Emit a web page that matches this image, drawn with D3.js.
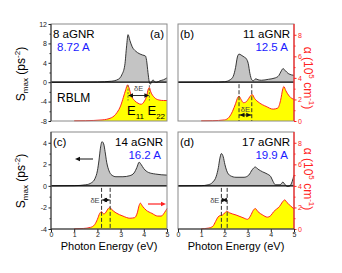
<!DOCTYPE html>
<html lang="en">
<head>
<meta charset="UTF-8">
<title>aGNR spectra</title>
<script src="https://d3js.org/d3.v7.min.js"></script>
<style>
  body { margin: 0; background: #fff; }
  svg { display: block; font-family: "Liberation Sans", Arial, sans-serif; }
</style>
</head>
<body>
<svg id="canvas" width="342" height="273"></svg>
<script>
// photon energy in eV, S_max in ps^-2, alpha in 10^5 cm^-1
let energyTicks = [0, 1, 2, 3, 4, 5]
let sTicksTop = [-8, -4, 0, 4, 8, 12]
let sTicksBottom = [-4, -2, 0, 2, 4]
let alphaTicks = [0, 2, 4, 6, 8]

// 8 aGNR
let sA = [[0,0],[1,0],[2,0.05],[2.6,0.2],[2.9,0.6],[3.05,1.5],[3.18,3.5],[3.26,7.5],[3.32,9.8],[3.4,8.6],[3.5,7.3],[3.65,6.4],[3.8,5.9],[3.95,5.6],[4.07,5.4],[4.12,4.5],[4.18,2.0],[4.23,0.2],[4.28,-0.4],[4.34,0.1],[4.4,0.5],[4.46,0.1],[4.55,0.0],[4.7,0.3],[4.85,0.5],[5,0.9]]
let alphaA = [[1,0.02],[1.5,0.03],[2.2,0.1],[2.6,0.3],[2.85,0.8],[3.0,1.4],[3.12,2.2],[3.22,2.9],[3.3,3.35],[3.36,3.1],[3.45,2.4],[3.6,1.9],[3.75,1.65],[3.88,1.55],[4.0,1.75],[4.12,2.3],[4.2,3.0],[4.24,3.1],[4.3,2.7],[4.45,2.2],[4.65,1.95],[4.85,1.9],[5,1.9]]
let peaksA = [3.32, 4.24]

// 11 aGNR
let sB = [[0,0],[1.5,0.02],[2.0,0.1],[2.25,0.5],[2.38,1.2],[2.48,3.0],[2.56,5.2],[2.63,5.8],[2.72,5.6],[2.85,5.2],[2.95,4.8],[3.03,3.8],[3.1,1.8],[3.18,0.5],[3.25,0.3],[3.35,0.7],[3.45,0.5],[3.6,0.4],[3.9,0.6],[4.2,0.9],[4.35,1.4],[4.45,2.3],[4.53,2.8],[4.62,2.4],[4.75,1.8],[4.9,1.5],[5,1.4]]
let alphaB = [[1,0.02],[1.5,0.03],[2.0,0.1],[2.2,0.35],[2.35,0.9],[2.48,1.6],[2.58,2.2],[2.63,2.3],[2.72,2.0],[2.82,1.7],[2.92,1.75],[3.05,2.1],[3.15,2.4],[3.2,2.45],[3.3,2.1],[3.5,1.7],[3.8,1.35],[4.1,1.1],[4.3,1.2],[4.42,1.9],[4.52,3.0],[4.56,3.2],[4.65,2.8],[4.8,2.3],[5,2.0]]
let peaksB = [2.63, 3.18]

// 14 aGNR
let sC = [[0,0],[1.0,0.02],[1.5,0.1],[1.75,0.3],[1.9,0.7],[2.0,1.4],[2.07,2.4],[2.13,3.5],[2.2,4.1],[2.27,3.9],[2.33,3.2],[2.4,2.2],[2.5,1.4],[2.62,1.0],[2.8,0.85],[3.1,0.85],[3.4,0.95],[3.58,1.2],[3.7,1.7],[3.8,2.2],[3.88,2.0],[4.0,1.6],[4.2,1.25],[4.5,1.1],[5,1.0]]
let alphaC = [[1.0,0.02],[1.4,0.05],[1.7,0.15],[1.88,0.4],[2.0,0.9],[2.1,1.45],[2.18,1.6],[2.27,1.4],[2.35,1.5],[2.45,1.85],[2.53,2.0],[2.62,1.8],[2.8,1.5],[3.1,1.2],[3.4,1.0],[3.6,1.05],[3.72,1.5],[3.8,2.2],[3.85,2.4],[3.95,2.1],[4.1,1.75],[4.35,1.45],[4.6,1.2],[4.75,1.2],[4.9,1.55],[5,1.9]]
let peaksC = [2.18, 2.55]

// 17 aGNR
let sD = [[0,0],[1.0,0.02],[1.3,0.1],[1.5,0.35],[1.65,0.9],[1.74,1.7],[1.8,2.5],[1.87,3.0],[1.95,2.7],[2.02,2.0],[2.1,1.4],[2.25,0.95],[2.5,0.8],[2.85,0.8],[3.05,1.0],[3.2,1.5],[3.33,1.75],[3.45,1.55],[3.65,1.3],[3.85,1.1],[4.0,0.85],[4.1,0.4],[4.2,0.1],[4.4,0.1],[4.52,0.35],[4.62,0.1],[4.72,-0.05],[4.82,0.0],[4.92,0.4],[5,1.0]]
let alphaD = [[1.0,0.02],[1.3,0.08],[1.5,0.25],[1.62,0.7],[1.72,1.1],[1.82,1.25],[1.92,1.3],[2.02,1.5],[2.1,1.65],[2.22,1.5],[2.5,1.3],[2.8,1.05],[3.0,0.9],[3.12,1.2],[3.25,1.75],[3.33,1.9],[3.45,1.6],[3.65,1.3],[3.85,1.1],[4.0,1.25],[4.12,1.6],[4.25,1.85],[4.38,2.1],[4.5,2.5],[4.6,2.7],[4.7,2.45],[4.85,2.15],[5,1.85]]
let peaksD = [1.87, 2.12]

let panels = [
  { tag: '(a)', name: '8 aGNR', wid: '8.72 A', s: sA, alpha: alphaA, peaks: peaksA, col: 0, row: 0 },
  { tag: '(b)', name: '11 aGNR', wid: '12.5 A', s: sB, alpha: alphaB, peaks: peaksB, col: 1, row: 0 },
  { tag: '(c)', name: '14 aGNR', wid: '16.2 A', s: sC, alpha: alphaC, peaks: peaksC, col: 0, row: 1 },
  { tag: '(d)', name: '17 aGNR', wid: '19.9 A', s: sD, alpha: alphaD, peaks: peaksD, col: 1, row: 1 }
]

let colX = [51, 178]
let rowY = [24, 132]
let pw = 116
let ph = 97
let red = '#ff2222'
let blue = '#1a1aff'

let svg = d3.select('#canvas')

let arrowHead = (g, x, y, dir, color) => {
  // small filled triangle pointing left (dir=-1) or right (dir=1)
  g.append('path')
    .attr('d', `M${x},${y} L${x - dir * 5},${y - 2.2} L${x - dir * 5},${y + 2.2} Z`)
    .attr('fill', color)
}

let styleAxis = (sel, color) => {
  sel.select('.domain').remove()
  sel.selectAll('line').attr('stroke', color)
  sel.selectAll('text').attr('fill', color).attr('font-size', 7)
    .attr('font-family', '"Liberation Sans", Arial, sans-serif')
  sel.attr('font-family', null).attr('font-size', null)
}

let drawPanel = (p) => {
  let g = svg.append('g').attr('transform', `translate(${colX[p.col]},${rowY[p.row]})`)
  let x = d3.scaleLinear().domain([0, 5]).range([0, pw])
  let yS = d3.scaleLinear().domain(p.row === 0 ? [-8, 12] : [-4, 5]).range([ph, 0])
  let yA = d3.scaleLinear().domain([0, 9]).range([ph, 0])

  g.append('path').datum(p.alpha)
    .attr('d', d3.area().x(d => x(d[0])).y0(ph).y1(d => yA(d[1])).curve(d3.curveMonotoneX))
    .attr('fill', '#ffff00')
  g.append('path').datum(p.alpha)
    .attr('d', d3.line().x(d => x(d[0])).y(d => yA(d[1])).curve(d3.curveMonotoneX))
    .attr('fill', 'none').attr('stroke', red).attr('stroke-width', 1)

  g.append('path').datum(p.s)
    .attr('d', d3.area().x(d => x(d[0])).y0(yS(0)).y1(d => yS(d[1])).curve(d3.curveMonotoneX))
    .attr('fill', '#c4c4c4')
  g.append('path').datum(p.s)
    .attr('d', d3.line().x(d => x(d[0])).y(d => yS(d[1])).curve(d3.curveMonotoneX))
    .attr('fill', 'none').attr('stroke', '#222').attr('stroke-width', 0.9)

  g.append('line').attr('x1', 0).attr('x2', pw).attr('y1', yS(0)).attr('y2', yS(0))
    .attr('stroke', '#000').attr('stroke-width', 1.2)

  // frame
  g.append('rect').attr('width', pw).attr('height', ph)
    .attr('fill', 'none').attr('stroke', '#8a8a8a').attr('stroke-width', 1)

  // delta E markers
  let [e1, e2] = p.peaks
  let gray = '#444'
  if (p.row === 0 && p.col === 0) {
    let ay = 71.5
    p.peaks.forEach(e => {
      g.append('line').attr('x1', x(e)).attr('x2', x(e)).attr('y1', yS(0) + 3).attr('y2', ay + 5)
        .attr('stroke', gray).attr('stroke-dasharray', '2,1.5').attr('stroke-width', 0.8)
    })
    g.append('line').attr('x1', x(e1) + 3).attr('x2', x(e2) - 3).attr('y1', ay).attr('y2', ay)
      .attr('stroke', '#111').attr('stroke-width', 0.9)
    arrowHead(g, x(e1), ay, -1, '#111')
    arrowHead(g, x(e2), ay, 1, '#111')
    g.append('text').attr('x', (x(e1) + x(e2)) / 2).attr('y', 67).attr('text-anchor', 'middle')
      .attr('font-size', 7.5).attr('fill', gray).text('δE')
  } else {
    let ay = p.row === 0 ? 91 : 68
    p.peaks.forEach(e => {
      g.append('line').attr('x1', x(e)).attr('x2', x(e)).attr('y1', yS(0) + 2).attr('y2', ph)
        .attr('stroke', '#333').attr('stroke-dasharray', '4,2').attr('stroke-width', 1)
    })
    g.append('line').attr('x1', x(e1)).attr('x2', x(e2)).attr('y1', ay).attr('y2', ay)
      .attr('stroke', '#111').attr('stroke-width', 0.8)
    arrowHead(g, x(e1) + 0.5, ay, -1, '#111')
    arrowHead(g, x(e2) - 0.5, ay, 1, '#111')
    if (p.row === 0) {
      g.append('text').attr('x', (x(e1) + x(e2)) / 2).attr('y', 87.5).attr('text-anchor', 'middle')
        .attr('font-size', 7.5).attr('fill', gray).text('δE')
    } else {
      g.append('text').attr('x', x(e1) - 2).attr('y', 70.5).attr('text-anchor', 'end')
        .attr('font-size', 7.5).attr('fill', gray).text('δE')
    }
  }

  // labels: name / width / panel tag
  let fs = 11.5
  let nameY = 13.5
  let widY = 27
  if (p.col === 0 && p.row === 0) {
    g.append('text').attr('x', 2).attr('y', nameY).attr('font-size', fs).text(p.name)
    g.append('text').attr('x', 6).attr('y', widY).attr('font-size', fs).attr('fill', blue).text(p.wid)
    g.append('text').attr('x', pw - 3).attr('y', nameY).attr('text-anchor', 'end').attr('font-size', fs).text(p.tag)
  } else {
    g.append('text').attr('x', 2).attr('y', nameY).attr('font-size', fs).text(p.tag)
    g.append('text').attr('x', pw - 4).attr('y', nameY).attr('text-anchor', 'end').attr('font-size', fs).text(p.name)
    g.append('text').attr('x', pw - 6).attr('y', widY).attr('text-anchor', 'end').attr('font-size', fs).attr('fill', blue).text(p.wid)
  }

  // left axis on left column
  if (p.col === 0) {
    let ticks = p.row === 0 ? sTicksTop : sTicksBottom
    let minor = p.row === 0 ? [-6, -2, 2, 6, 10] : [-3, -1, 1, 3]
    g.append('g').call(d3.axisLeft(yS).tickValues(minor).tickSize(1.5).tickFormat(''))
      .call(s => styleAxis(s, '#333'))
    g.append('g').call(d3.axisLeft(yS).tickValues(ticks).tickSize(2.5).tickPadding(1.5).tickFormat(d => String(d)))
      .call(s => styleAxis(s, '#222'))
    g.append('line').attr('x1', 0).attr('x2', 0).attr('y1', 0).attr('y2', ph).attr('stroke', '#333')
  } else {
    // right alpha axis
    let ax = g.append('g').attr('transform', `translate(${pw},0)`)
    ax.append('g').call(d3.axisRight(yA).tickValues([1, 3, 5, 7]).tickSize(1.5).tickFormat(''))
      .call(s => styleAxis(s, red))
    ax.append('g').call(d3.axisRight(yA).tickValues(alphaTicks).tickSize(2.5).tickPadding(1.5).tickFormat(d => String(d)))
      .call(s => styleAxis(s, red))
    ax.append('line').attr('y1', 0).attr('y2', ph).attr('stroke', red).attr('stroke-width', 1.2)
  }

  // bottom axis on bottom row
  if (p.row === 1) {
    let ax = g.append('g').attr('transform', `translate(0,${ph})`)
    ax.append('g').call(d3.axisBottom(x).tickValues(energyTicks).tickSize(3).tickPadding(0.5).tickFormat(d => String(d)))
      .call(s => styleAxis(s, '#222'))
    ax.append('line').attr('x1', 0).attr('x2', pw).attr('stroke', '#333')
  }

  return { g, x, yS }
}

let drawn = panels.map(drawPanel)

// direction arrows in panel (c)
let gc = drawn[2].g
gc.append('line').attr('x1', 42).attr('x2', 28).attr('y1', 27).attr('y2', 27).attr('stroke', '#111').attr('stroke-width', 1)
arrowHead(gc, 24, 27, -1, '#111')
gc.append('line').attr('x1', 97).attr('x2', 110).attr('y1', 72).attr('y2', 72).attr('stroke', red).attr('stroke-width', 1.2)
arrowHead(gc, 115, 72, 1, red)

// RBLM and E11 / E22 in panel (a)
let ga = drawn[0].g
ga.append('text').attr('x', 6).attr('y', 78).attr('font-size', 12).text('RBLM')
let eLabel = (g, xPos, sub) => {
  let t = g.append('text').attr('x', xPos).attr('y', 91).attr('font-size', 13)
  t.append('tspan').text('E')
  t.append('tspan').attr('font-size', 8).attr('dy', 4).text(sub)
}
eLabel(ga, 76, '11')
eLabel(ga, 96.5, '22')

// axis titles
let sLabel = (cy) => {
  let t = svg.append('text').attr('transform', `translate(25,${cy}) rotate(-90)`)
    .attr('text-anchor', 'middle').attr('font-size', 12)
  t.append('tspan').text('S')
  t.append('tspan').attr('font-size', 8).attr('dy', 3).text('max')
  t.append('tspan').attr('dy', -3).text(' (ps')
  t.append('tspan').attr('font-size', 8).attr('dy', -5).text('-2')
  t.append('tspan').attr('dy', 5).text(')')
}
sLabel(74)
sLabel(181)

let aLabel = (cy) => {
  let t = svg.append('text').attr('transform', `translate(304,${cy}) rotate(90)`)
    .attr('text-anchor', 'middle').attr('font-size', 12).attr('fill', red)
  t.append('tspan').text('α (10')
  t.append('tspan').attr('font-size', 8).attr('dy', -5).text('5')
  t.append('tspan').attr('dy', 5).text(' cm')
  t.append('tspan').attr('font-size', 8).attr('dy', -5).text('-1')
  t.append('tspan').attr('dy', 5).text(')')
}
aLabel(78)
aLabel(179)

colX.forEach(cx => {
  svg.append('text').attr('x', cx + pw / 2).attr('y', 250).attr('text-anchor', 'middle')
    .attr('font-size', 11).text('Photon Energy (eV)')
})
</script>
</body>
</html>
